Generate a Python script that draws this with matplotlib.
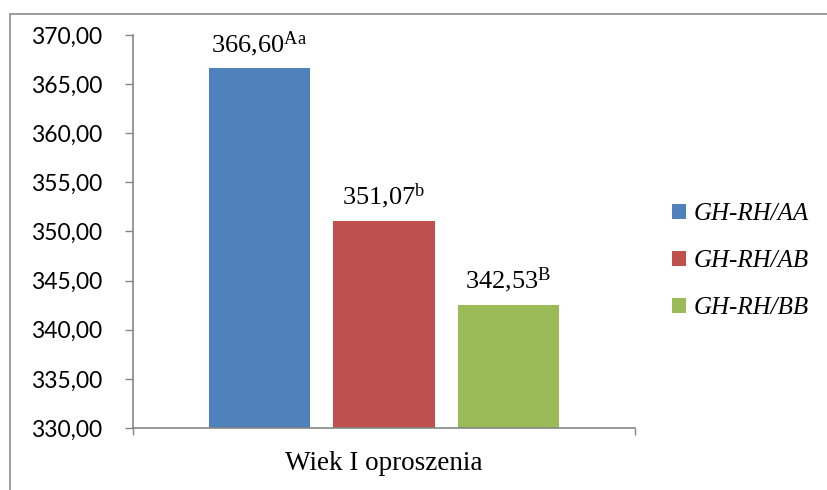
import matplotlib
matplotlib.use("Agg")
import matplotlib.pyplot as plt
from matplotlib.patches import Rectangle

# Data
category = "Wiek I oproszenia"
series = ["GH-RH/AA", "GH-RH/AB", "GH-RH/BB"]
values = [366.60, 351.07, 342.53]
letters = ["Aa", "b", "B"]
colors = ["#4F81BD", "#C0504D", "#9BBB59"]
yticks = [330, 335, 340, 345, 350, 355, 360, 365, 370]

plt.rcParams["mathtext.fontset"] = "custom"
plt.rcParams["mathtext.rm"] = "Liberation Serif"
plt.rcParams["mathtext.it"] = "Liberation Serif:italic"

fig = plt.figure(figsize=(8.28, 4.9), dpi=100)
ax = fig.add_axes([133 / 828, 1 - 428 / 490, (635 - 133) / 828, (428 - 35) / 490])

# Outer chart frame (left and top edges visible)
fig.patches.append(Rectangle((10 / 828, -0.1), 2, 1.1 - 14 / 490, transform=fig.transFigure,
                             fill=False, edgecolor="#8c8c8c", linewidth=1.2))

center = 0.5
step = 0.248
width = 0.203
grey = "#868686"
for i, (name, v, let, c) in enumerate(zip(series, values, letters, colors)):
    x = center + (i - 1) * step
    ax.bar(x, v - 330, bottom=330, width=width, color=c, label=name, zorder=2)
    txt = f"{v:.2f}".replace(".", ",") + r"$^{\mathrm{" + let + "}}$"
    ax.annotate(txt, (x, v), xytext=(0, 7), textcoords="offset points",
                ha="center", va="bottom", fontsize=19, family="Liberation Serif")

ax.set_xlim(0, 1)
ax.set_ylim(330, 370)
ax.set_yticks(yticks)
ax.set_yticklabels([f"{t:.2f}".replace(".", ",") for t in yticks],
                   fontsize=16.5, family="Lato")
ax.set_xticks([0, 1])
ax.set_xticklabels([])
ax.tick_params(axis="y", length=6, width=1, color=grey, pad=16)
ax.tick_params(axis="x", length=5, width=1, color=grey, direction="out")
for s in ["top", "right"]:
    ax.spines[s].set_visible(False)
for s in ["left", "bottom"]:
    ax.spines[s].set_color(grey)
    ax.spines[s].set_linewidth(1.2)

ax.set_xlabel(category, fontsize=19.5, family="Liberation Serif", labelpad=8)

leg = ax.legend(loc="center left", bbox_to_anchor=(1.074, 0.424), frameon=False,
                borderpad=0, borderaxespad=0,
                prop={"family": "Liberation Serif", "style": "italic", "size": 18},
                handlelength=0.55, handleheight=0.55, handletextpad=0.3, labelspacing=1.0)

fig.savefig("out.png", dpi=100)
